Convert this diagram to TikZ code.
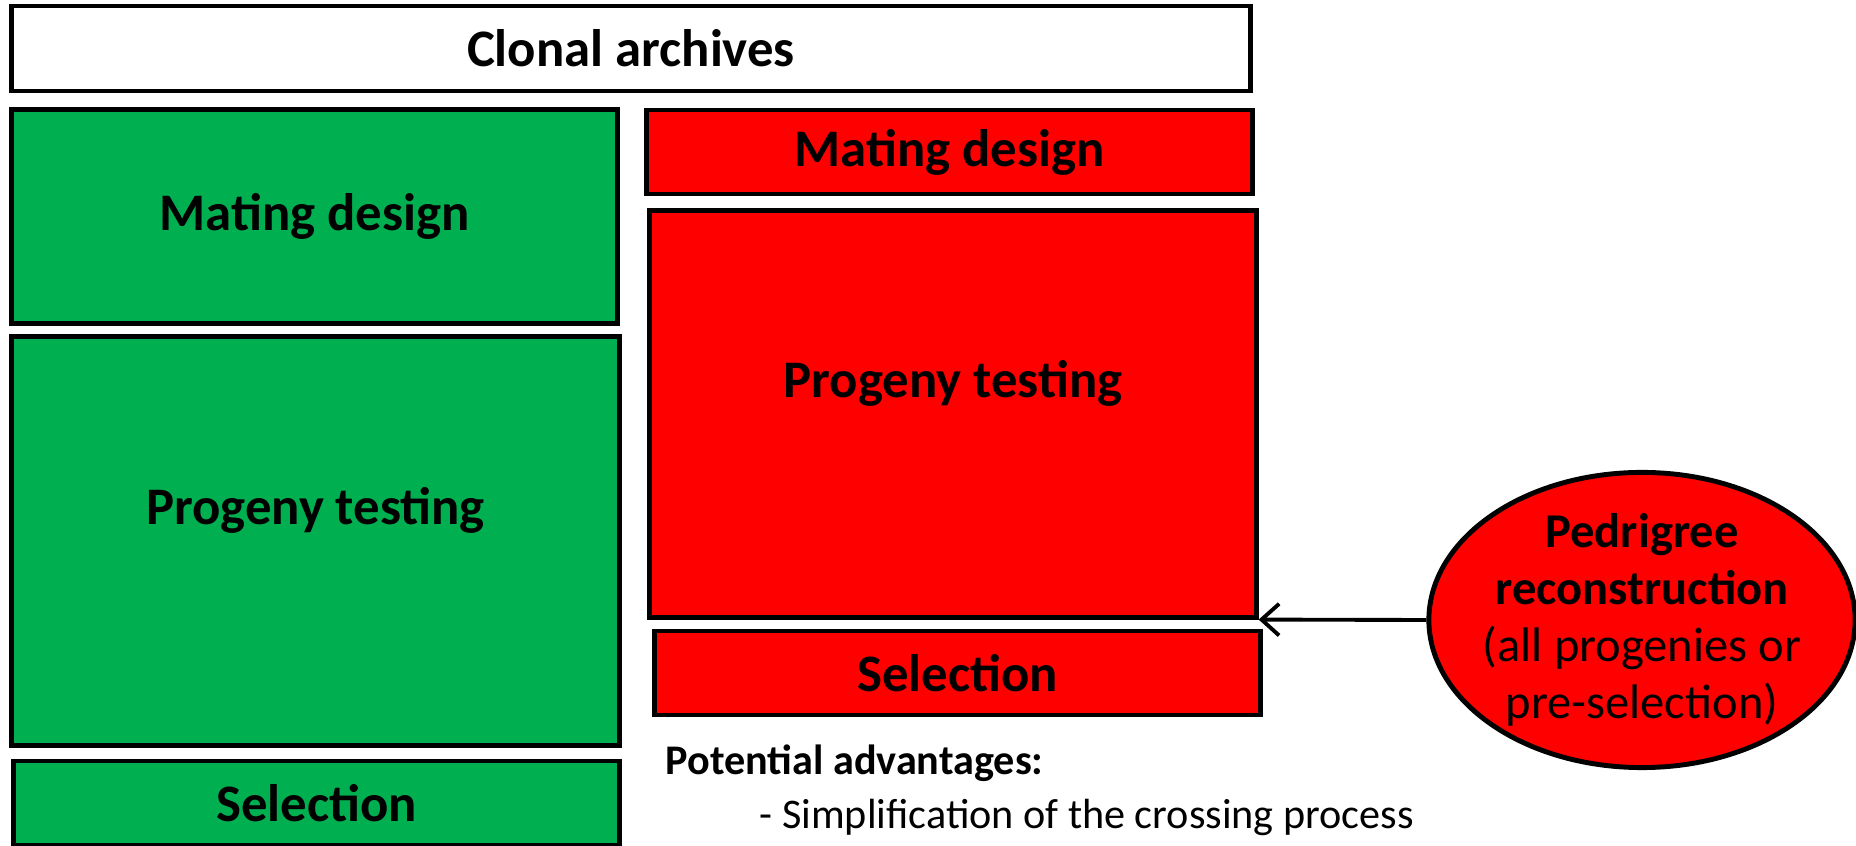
\documentclass[tikz,border=0pt]{standalone}
\usepackage{fontspec}
\setmainfont{Carlito}
\usetikzlibrary{arrows.meta,shapes.geometric}
\definecolor{cgreen}{HTML}{00B050}
\definecolor{cred}{HTML}{FF0000}

\begin{document}
\begin{tikzpicture}[x=0.01cm, y=0.01cm,
  box/.style={draw=black, line width=1.4pt, inner sep=0pt, font=\fontsize{15}{18}\selectfont\bfseries},
  greenbox/.style={box, fill=cgreen},
  redbox/.style={box, fill=cred},
  note/.style={anchor=west, inner sep=0pt, font=\fontsize{12}{14}\selectfont}]
\useasboundingbox (0,0) rectangle (1856,-846);
\node [box, minimum width=12.38cm, minimum height=0.85cm] (archives) at (631,-48.5) {Clonal archives};
\node [greenbox, minimum width=6.05cm, minimum height=2.13cm] (greenmating) at (314.5,-216.5) {Mating design};
\node [greenbox, minimum width=6.07cm, minimum height=4.08cm, text depth=0.7cm] (greentest) at (315.5,-541) {Progeny testing};
\node [greenbox, minimum width=6.05cm, minimum height=0.84cm] (greensel) at (316.5,-803) {Selection};
\node [redbox, minimum width=6.05cm, minimum height=0.84cm] (redmating) at (949.5,-152) {Mating design};
\node [redbox, minimum width=6.06cm, minimum height=4.06cm, text depth=0.7cm] (redtest) at (953,-414) {Progeny testing};
\node [redbox, minimum width=6.05cm, minimum height=0.84cm] (redsel) at (957.5,-673) {Selection};
\node [ellipse, draw=black, fill=cred, line width=1.4pt, inner sep=0pt, minimum width=4.26cm, minimum height=2.95cm,
  label={[align=center, font=\fontsize{13.8}{16.2}\selectfont]center:\textbf{Pedrigree}\\\textbf{reconstruction}\\(all progenies or\\pre-selection)}]
  (pedigree) at (1642,-620) {};
\draw [-{Straight Barb[length=5pt,width=9pt]}, line width=1.1pt] (pedigree.west) -- (redtest.south east);
\node [note, font=\fontsize{12}{14}\selectfont\bfseries] (advantages) at (665,-763) {Potential advantages:};
\node [note] (simplify) at (759,-817) {- Simplification of the crossing process};
\end{tikzpicture}
\end{document}
